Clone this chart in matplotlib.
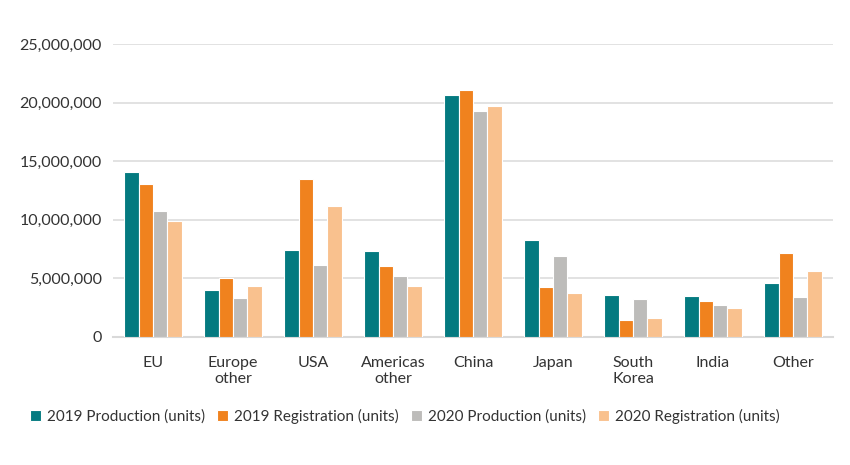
import numpy as np
import matplotlib.pyplot as plt
from matplotlib.ticker import FuncFormatter

regions = ['EU', 'Europe\nother', 'USA', 'Americas\nother', 'China', 'Japan',
           'South\nKorea', 'India', 'Other']
series_names = ['2019 Production (units)', '2019 Registration (units)',
                '2020 Production (units)', '2020 Registration (units)']
prod_2019 = [14090000, 4030000, 7410000, 7360000, 20630000, 8240000, 3580000, 3490000, 4600000]
reg_2019 = [13040000, 5030000, 13440000, 6080000, 21110000, 4260000, 1480000, 3040000, 7160000]
prod_2020 = [10770000, 3300000, 6110000, 5230000, 19320000, 6880000, 3210000, 2730000, 3440000]
reg_2020 = [9940000, 4380000, 11220000, 4380000, 19690000, 3750000, 1620000, 2440000, 5630000]

colors = ['#047A80', '#F0821E', '#BDBCBA', '#F9C18E']
plt.rcParams['font.family'] = ['Lato', 'DejaVu Sans']

fig, ax = plt.subplots(figsize=(8.5, 4.65), dpi=100)
fig.subplots_adjust(left=113/850, right=833/850, top=1-44/465, bottom=1-337/465)

x = np.arange(len(regions))
w = 0.18
for i, (vals, name) in enumerate(zip([prod_2019, reg_2019, prod_2020, reg_2020], series_names)):
    ax.bar(x + (i - 1.5) * w, vals, width=w, color=colors[i], edgecolor='white',
           linewidth=0.8, label=name, zorder=3)

ax.set_xlim(-0.5, len(regions) - 0.5)
ax.set_ylim(0, 25000000)
ax.set_yticks(np.arange(0, 25000001, 5000000))
ax.yaxis.set_major_formatter(FuncFormatter(lambda v, p: '{:,.0f}'.format(v)))
ax.grid(axis='y', color='#DDDDDD', linewidth=1.2, zorder=0)
ax.set_xticks(x)
ax.set_xticklabels(regions, linespacing=1.1)
ax.tick_params(length=0, labelsize=11.5, colors='#333333')
ax.tick_params(axis='x', pad=14)
ax.tick_params(axis='y', pad=8)
for s in ['top', 'right', 'left']:
    ax.spines[s].set_visible(False)
ax.spines['bottom'].set_color('#D9D9D9')
ax.spines['bottom'].set_linewidth(1.5)

fig.legend(loc='center', bbox_to_anchor=(405/850, 1-416/465), ncol=4, frameon=False,
           handlelength=0.7, handleheight=0.7, handletextpad=0.4, columnspacing=0.8,
           fontsize=11, labelcolor='#333333')

fig.savefig('out.png', dpi=100)
